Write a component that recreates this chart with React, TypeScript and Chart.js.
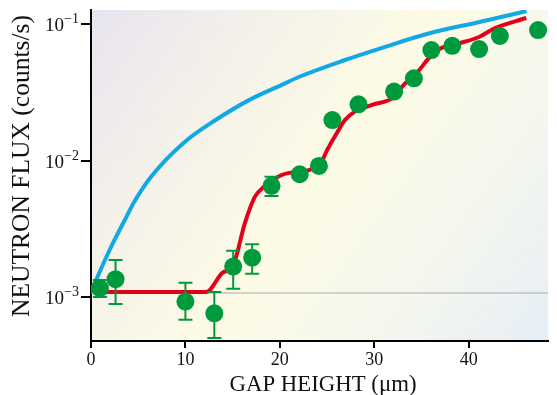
import React, { useEffect, useRef } from 'react';
import { Chart, registerables } from 'chart.js';

Chart.register(...registerables);

const FONT = "'Liberation Serif', 'DejaVu Serif', serif";

// X axis
const xTicks = [0, 10, 20, 30, 40];
const xMin = 0;
const xMax = 48.4;

// Y axis (log)
const yTicks = [1e-3, 1e-2, 1e-1];
const yTickBase = ['10', '10', '10'];
const yTickExp = ['−3', '−2', '−1'];
const yMin = 4.76e-4;
const yMax = 0.1267;

// Measured data (green points)
const pointX = [0.94, 2.6, 10.0, 13.06, 15.06, 17.07, 19.12, 22.1, 24.14, 25.56, 28.33, 32.1, 34.2, 36.05, 38.26, 41.1, 43.3, 47.35];
const pointY = [1.16e-3, 1.35e-3, 9.25e-4, 7.6e-4, 1.67e-3, 1.94e-3, 6.53e-3, 7.93e-3, 9.12e-3, 1.98e-2, 2.58e-2, 3.2e-2, 4.0e-2, 6.45e-2, 6.93e-2, 6.56e-2, 8.17e-2, 9.03e-2];
const errLow: (number | null)[] = [1.0e-3, 8.9e-4, 6.8e-4, 5.0e-4, 1.15e-3, 1.48e-3, 5.5e-3, null, null, null, null, null, null, null, null, null, null, null];
const errHigh: (number | null)[] = [1.33e-3, 1.87e-3, 1.27e-3, 1.09e-3, 2.18e-3, 2.43e-3, 7.6e-3, null, null, null, null, null, null, null, null, null, null, null];

// Blue curve
const blueX = [0.05, 0.42, 1.97, 3.74, 4.57, 6.34, 9.77, 13.2, 16.73, 20.16, 22.0, 26.9, 30.75, 35.95, 41.14, 46.13];
const blueY = [1.1e-3, 1.27e-3, 2.21e-3, 3.85e-3, 4.96e-3, 7.57e-3, 1.34e-2, 1.98e-2, 2.77e-2, 3.57e-2, 4.09e-2, 5.45e-2, 6.67e-2, 8.59e-2, 0.1035, 0.1245];

// Red curve
const redX = [1.0, 12.2, 13.9, 15.06, 16.3, 17.35, 18.3, 20.2, 21.7, 23.1, 24.5, 25.0, 26.1, 26.9, 27.9, 29.7, 32.1, 33.1, 34.5, 35.9, 37.1, 39.1, 41.1, 42.8, 46.1];
const redY = [1.09e-3, 1.09e-3, 1.5e-3, 1.71e-3, 3.48e-3, 5.41e-3, 6.4e-3, 7.83e-3, 8.24e-3, 8.5e-3, 1.01e-2, 1.19e-2, 1.62e-2, 1.98e-2, 2.27e-2, 2.55e-2, 2.92e-2, 3.57e-2, 4.38e-2, 5.73e-2, 6.67e-2, 7.26e-2, 8.04e-2, 9.35e-2, 0.1107];

// Gray reference line
const grayX = [0, 48.4];
const grayY = [1.07e-3, 1.07e-3];

const xTitle = 'GAP HEIGHT (μm)';
const yTitle = 'NEUTRON FLUX (counts/s)';

const GREEN = '#009a3e';
const BLUE = '#12a8e6';
const RED = '#e2001a';

const zip = (xs: number[], ys: number[]) => xs.map((x, i) => ({ x, y: ys[i] }));

const bgPlugin = {
  id: 'bg',
  beforeDraw(chart: any) {
    const { ctx, chartArea: a } = chart;
    ctx.save();
    ctx.fillStyle = '#ffffff';
    ctx.fillRect(0, 0, chart.width, chart.height);
    const g = ctx.createLinearGradient(a.left, a.top, a.right, a.bottom);
    g.addColorStop(0, '#e8e4ef');
    g.addColorStop(0.25, '#f4f1ea');
    g.addColorStop(0.5, '#fdfbe5');
    g.addColorStop(0.75, '#f5f7ee');
    g.addColorStop(1, '#e6eef6');
    ctx.fillStyle = g;
    ctx.fillRect(a.left, a.top, a.right - a.left, a.bottom - a.top);
    ctx.restore();
  },
};

const errPlugin = {
  id: 'errbars',
  beforeDatasetDraw(chart: any, args: any) {
    if (args.index !== 0) return;
    const { ctx, chartArea: a } = chart;
    const xs = chart.scales.x;
    const ys = chart.scales.y;
    ctx.save();
    ctx.beginPath();
    ctx.rect(a.left, a.top, a.right - a.left, a.bottom - a.top);
    ctx.clip();
    ctx.strokeStyle = GREEN;
    ctx.lineWidth = 2;
    pointX.forEach((x, i) => {
      const lo = errLow[i];
      const hi = errHigh[i];
      if (lo == null || hi == null) return;
      const px = xs.getPixelForValue(x);
      const pLo = ys.getPixelForValue(lo);
      const pHi = ys.getPixelForValue(hi);
      ctx.beginPath();
      ctx.moveTo(px, pLo);
      ctx.lineTo(px, pHi);
      ctx.moveTo(px - 7, pLo);
      ctx.lineTo(px + 7, pLo);
      ctx.moveTo(px - 7, pHi);
      ctx.lineTo(px + 7, pHi);
      ctx.stroke();
    });
    ctx.restore();
  },
};

const fitFont = (ctx: any, text: string, target: number) => {
  ctx.font = `20px ${FONT}`;
  const w = ctx.measureText(text).width;
  return (20 * target) / w;
};

const textPlugin = {
  id: 'texts',
  afterDraw(chart: any) {
    const { ctx, chartArea: a } = chart;
    const ys = chart.scales.y;
    ctx.save();
    ctx.fillStyle = '#111';
    // y tick labels with superscript exponents
    ctx.textBaseline = 'alphabetic';
    yTicks.forEach((v, i) => {
      const py = ys.getPixelForValue(v);
      const right = a.left - 12;
      ctx.font = `14px ${FONT}`;
      const ew = ctx.measureText(yTickExp[i]).width;
      ctx.textAlign = 'right';
      ctx.fillText(yTickExp[i], right, py - 1);
      ctx.font = `19px ${FONT}`;
      ctx.fillText(yTickBase[i], right - ew, py + 7);
    });
    // axis titles
    ctx.textAlign = 'center';
    const fx = fitFont(ctx, xTitle, 187);
    ctx.font = `${fx}px ${FONT}`;
    ctx.fillText(xTitle, 323, 391);
    const fy = fitFont(ctx, yTitle, 302);
    ctx.translate(29, 166);
    ctx.rotate(-Math.PI / 2);
    ctx.font = `${fy}px ${FONT}`;
    ctx.fillText(yTitle, 0, 0);
    ctx.restore();
  },
};

export default function App() {
  const ref = useRef<HTMLCanvasElement>(null);
  useEffect(() => {
    document.body.style.margin = '0';
    const canvas = ref.current!;
    const chart = new Chart(canvas, {
      type: 'scatter',
      data: {
        datasets: [
          {
            label: 'data',
            data: zip(pointX, pointY),
            pointRadius: 9,
            pointHoverRadius: 9,
            pointBackgroundColor: GREEN,
            pointBorderColor: GREEN,
            pointBorderWidth: 0,
            showLine: false,
          },
          {
            label: 'red',
            data: zip(redX, redY),
            showLine: true,
            borderColor: RED,
            borderWidth: 4,
            pointRadius: 0,
            cubicInterpolationMode: 'monotone',
          },
          {
            label: 'blue',
            data: zip(blueX, blueY),
            showLine: true,
            borderColor: BLUE,
            borderWidth: 4,
            pointRadius: 0,
            cubicInterpolationMode: 'monotone',
          },
          {
            label: 'gray',
            data: zip(grayX, grayY),
            showLine: true,
            borderColor: '#a9a9a9',
            borderWidth: 1,
            pointRadius: 0,
          },
        ],
      } as any,
      options: {
        animation: false,
        responsive: false,
        devicePixelRatio: 1,
        layout: { padding: { top: 10, right: 0, left: 0, bottom: 0 } },
        plugins: { legend: { display: false }, tooltip: { enabled: false } },
        scales: {
          x: {
            type: 'linear',
            min: xMin,
            max: xMax,
            afterBuildTicks: (s: any) => {
              s.ticks = xTicks.map((v) => ({ value: v }));
            },
            afterFit: (s: any) => {
              s.height = 54;
            },
            grid: { display: true, drawOnChartArea: false, drawTicks: true, tickLength: 7, color: '#000', lineWidth: 2 },
            border: { display: true, color: '#000', width: 2 },
            ticks: { color: '#111', font: { family: FONT, size: 18 }, padding: 1, maxRotation: 0, autoSkip: false },
          },
          y: {
            type: 'logarithmic',
            min: yMin,
            max: yMax,
            afterBuildTicks: (s: any) => {
              s.ticks = yTicks.map((v) => ({ value: v }));
            },
            afterFit: (s: any) => {
              s.width = 91;
            },
            grid: { display: true, drawOnChartArea: false, drawTicks: true, tickLength: 10, color: '#000', lineWidth: 2 },
            border: { display: true, color: '#000', width: 2 },
            ticks: { display: false, autoSkip: false },
          },
        },
      } as any,
      plugins: [bgPlugin, errPlugin, textPlugin],
    });
    return () => chart.destroy();
  }, []);
  return (
    <div style={{ position: 'absolute', left: 0, top: 0, width: 557, height: 395 }}>
      <canvas ref={ref} width={557} height={395} />
    </div>
  );
}
